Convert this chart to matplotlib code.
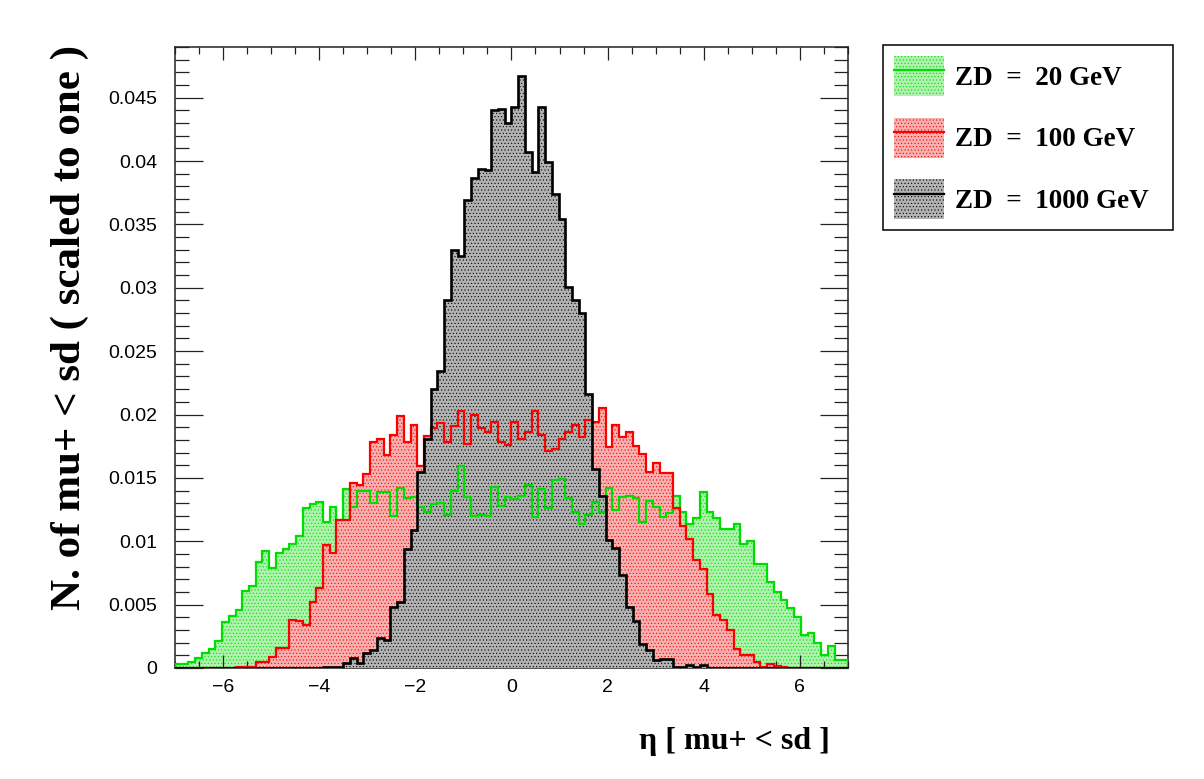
import numpy as np
import matplotlib
matplotlib.use("Agg")
import matplotlib.pyplot as plt
from matplotlib.patches import Patch
from matplotlib.lines import Line2D
from matplotlib.ticker import MultipleLocator, FuncFormatter

# eta binning of the histograms
ETA_MIN, ETA_MAX, N_BINS = -7.0, 7.0, 100

# normalised eta distributions of mu+ (scaled to one), one value per bin
zd20 = [
    0.0003, 0.0003, 0.0005, 0.0008, 0.0012, 0.0015, 0.0021, 0.0036, 0.0041, 0.0046,
    0.0061, 0.0065, 0.0084, 0.0092, 0.0079, 0.0091, 0.0094, 0.0098, 0.0104, 0.0126,
    0.0129, 0.0131, 0.0115, 0.0127, 0.0117, 0.0141, 0.0127, 0.0140, 0.0140, 0.0130,
    0.0139, 0.0139, 0.0120, 0.0142, 0.0134, 0.0135, 0.0127, 0.0123, 0.0129, 0.0130,
    0.0121, 0.0140, 0.0159, 0.0135, 0.0120, 0.0121, 0.0120, 0.0143, 0.0128, 0.0135,
    0.0133, 0.0136, 0.0144, 0.0119, 0.0141, 0.0126, 0.0148, 0.0149, 0.0134, 0.0123,
    0.0114, 0.0121, 0.0131, 0.0123, 0.0142, 0.0125, 0.0135, 0.0136, 0.0134, 0.0115,
    0.0132, 0.0127, 0.0119, 0.0122, 0.0136, 0.0123, 0.0114, 0.0118, 0.0139, 0.0123,
    0.0118, 0.0110, 0.0110, 0.0114, 0.0098, 0.0100, 0.0082, 0.0082, 0.0068, 0.0060,
    0.0054, 0.0047, 0.0040, 0.0026, 0.0028, 0.0020, 0.0010, 0.0017, 0.0006, 0.0006,
]
zd100 = [
    0.0, 0.0, 0.0, 0.0, 0.0, 0.0, 0.0, 0.0, 0.0, 0.0001,
    0.0001, 0.0001, 0.0005, 0.0005, 0.0009, 0.0016, 0.0016, 0.0038, 0.0037, 0.0034,
    0.0052, 0.0063, 0.0097, 0.0091, 0.0117, 0.0117, 0.0146, 0.0144, 0.0153, 0.0178,
    0.0181, 0.0168, 0.0184, 0.0199, 0.0178, 0.0192, 0.0159, 0.0183, 0.0189, 0.0193,
    0.0178, 0.0191, 0.0203, 0.0177, 0.0200, 0.0189, 0.0186, 0.0194, 0.0178, 0.0176,
    0.0194, 0.0181, 0.0186, 0.0203, 0.0184, 0.0171, 0.0173, 0.0181, 0.0186, 0.0192,
    0.0182, 0.0196, 0.0194, 0.0205, 0.0174, 0.0192, 0.0182, 0.0186, 0.0175, 0.0169,
    0.0155, 0.0162, 0.0154, 0.0154, 0.0126, 0.0112, 0.0102, 0.0085, 0.0078, 0.0058,
    0.0042, 0.0038, 0.0030, 0.0015, 0.0010, 0.0010, 0.0005, 0.0001, 0.0003, 0.00016,
    0.00006, 0.00003, 0.00003, 0.0, 0.0, 0.0, 0.0, 0.0, 0.0, 0.0,
]
zd1000 = [
    0.0, 0.0, 0.0, 0.0, 0.0, 0.0, 0.0, 0.0, 0.0, 0.0,
    0.0, 0.0, 0.0, 0.0, 0.0, 0.0, 0.0, 0.0, 0.0, 0.0,
    0.0, 0.0, 0.0001, 0.0001, 0.0001, 0.0004, 0.0008, 0.0004, 0.0012, 0.0014,
    0.0024, 0.0022, 0.0048, 0.0052, 0.0094, 0.0109, 0.0155, 0.0181, 0.0220, 0.0234,
    0.0290, 0.0330, 0.0325, 0.0369, 0.0387, 0.0394, 0.0393, 0.0440, 0.0441, 0.0430,
    0.0443, 0.0467, 0.0407, 0.0391, 0.0443, 0.0399, 0.0374, 0.0354, 0.0301, 0.0290,
    0.0280, 0.0216, 0.0157, 0.0136, 0.0101, 0.0095, 0.0073, 0.0048, 0.0037, 0.0019,
    0.0014, 0.0006, 0.0007, 0.0007, 0.00005, 0.00005, 0.0002, 0.00005, 0.0002, 0.0,
    0.0, 0.0, 0.0, 0.0, 0.0, 0.0, 0.0, 0.0, 0.0, 0.0,
    0.0, 0.0, 0.0, 0.0, 0.0, 0.0, 0.0, 0.0, 0.0, 0.0,
]
labels = ["ZD  =  20 GeV", "ZD  =  100 GeV", "ZD  =  1000 GeV"]

plt.rcParams["hatch.linewidth"] = 0.4

edges = np.linspace(ETA_MIN, ETA_MAX, N_BINS + 1)
series = [
    (zd20, "#00dd00", "#aef2ae"),
    (zd100, "#ff0000", "#f6b0b0"),
    (zd1000, "#000000", "#b2b2b2"),
]

fig = plt.figure(figsize=(12.04, 7.79), dpi=100)
ax = fig.add_axes([0.1453, 0.1425, 0.559, 0.7972])

# filled histograms first, then the outlines on top
for i, (vals, col, tint) in enumerate(series):
    ax.stairs(vals, edges, fill=True, facecolor=tint, edgecolor=col,
              hatch=".....", linewidth=0, zorder=1 + i)
for i, (vals, col, tint) in enumerate(series):
    ax.stairs(vals, edges, color=col, linewidth=1.6 if i < 2 else 1.9,
              zorder=10 + i)

ax.set_xlim(ETA_MIN, ETA_MAX)
ax.set_ylim(0, 0.049)

ax.xaxis.set_major_locator(MultipleLocator(2))
ax.xaxis.set_minor_locator(MultipleLocator(0.5))
ax.yaxis.set_major_locator(MultipleLocator(0.005))
ax.yaxis.set_minor_locator(MultipleLocator(0.001))
ax.yaxis.set_major_formatter(FuncFormatter(lambda v, p: "%g" % round(v, 4)))

ax.tick_params(axis="both", which="both", direction="in", top=True, right=True,
               width=0.9, color="#222222", labelsize=14)
ax.tick_params(axis="y", which="major", length=20, pad=13)
ax.tick_params(axis="y", which="minor", length=10)
ax.tick_params(axis="x", which="major", length=9.5, pad=8)
ax.tick_params(axis="x", which="minor", length=5)
for lab in ax.get_xticklabels() + ax.get_yticklabels():
    lab.set_fontfamily("Liberation Sans")
for sp in ax.spines.values():
    sp.set_linewidth(1.1)
    sp.set_color("#222222")

ax.text(-0.157, 1.003, "N. of mu+ < sd ( scaled to one )", transform=ax.transAxes,
        rotation=90, ha="center", va="top", fontsize=31,
        family="Liberation Serif", weight="bold")
ax.text(0.973, -0.119, "η [ mu+ < sd ]", transform=ax.transAxes,
        ha="right", va="center", fontsize=23,
        family="Liberation Serif", weight="bold")

handles = [
    (Patch(facecolor=tint, edgecolor=col, hatch=".....", linewidth=0),
     Line2D([], [], color=col, linewidth=1.6))
    for _, col, tint in series
]
leg = fig.legend(handles, labels, loc="upper left",
                 bbox_to_anchor=(0.7334, 0.5, 0.2406, 0.4422), mode="expand",
                 borderaxespad=0, fancybox=False, framealpha=1,
                 edgecolor="black", handlelength=1.85, handleheight=1.9,
                 handletextpad=0.4, labelspacing=0.8, borderpad=0.4,
                 prop={"family": "Liberation Serif", "weight": "bold", "size": 19.5})
leg.get_frame().set_linewidth(1.1)

fig.savefig("out.png", dpi=100)
